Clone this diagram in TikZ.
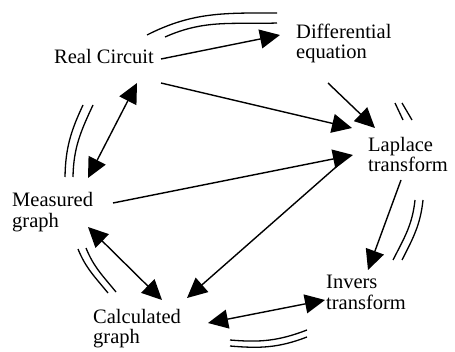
\documentclass[tikz,border=0pt]{standalone}
\usepackage{fontspec}
\setmainfont{Liberation Serif}
\usetikzlibrary{arrows.meta}
\begin{document}
\begin{tikzpicture}[x=1pt,y=1pt,
  lbl/.style={anchor=base west, inner sep=0pt, align=left, font=\fontsize{20.5}{20}\selectfont},
  conn/.style={line width=1.4pt, -{Triangle[length=20pt,width=19pt]}},
  biconn/.style={line width=1.4pt, {Triangle[length=20pt,width=19pt]}-{Triangle[length=20pt,width=19pt]}},
  cyc/.style={line width=1.3pt}]
\useasboundingbox (0,0) rectangle (455,351);
% nodes (base west = baseline of the last line)
\node[lbl] (rc) at (54,287) {Real Circuit};
\node[lbl] (de) at (296,292) {Differential\\equation};
\node[lbl] (lt) at (368,179) {Laplace\\transform};
\node[lbl] (mg) at (12,124) {Measured\\graph};
\node[lbl] (cg) at (93,8) {Calculated\\graph};
\node[lbl] (it) at (326,42) {Invers\\transform};
% connectors
\draw[conn] ([shift={(107,5)}]rc.base west) -- ([shift={(-16,24)}]de.base west);
\draw[conn] ([shift={(107,-19)}]rc.base west) -- ([shift={(-16,44)}]lt.base west);
\draw[conn] ([shift={(32,-24)}]de.base west) -- ([shift={(7,44)}]lt.base west);
\draw[conn] ([shift={(101,24)}]mg.base west) -- ([shift={(-15,17)}]lt.base west);
\draw[conn] ([shift={(-24,12)}]lt.base west) -- ([shift={(94,45)}]cg.base west);
\draw[biconn] ([shift={(83,-19)}]rc.base west) -- ([shift={(76,49)}]mg.base west);
\draw[biconn] ([shift={(76,0)}]mg.base west) -- ([shift={(69,43)}]cg.base west);
\draw[biconn] ([shift={(115,20)}]cg.base west) -- ([shift={(-1,9)}]it.base west);
\draw[conn] ([shift={(33,-8)}]lt.base west) -- ([shift={(42,39)}]it.base west);
% cycle marks
\draw[cyc] (147,316) to[out=27,in=180] (277,338);
\draw[cyc] (165,314) to[out=24,in=182] (277,328);
\draw[cyc] (395,248) -- (403,231);
\draw[cyc] (402,248) -- (412,231);
\draw[cyc] (423,151) to[out=264,in=63] (402,91);
\draw[cyc] (415,151) to[out=264,in=63] (393,91);
\draw[cyc] (307,14) to[out=201,in=355] (230,5);
\draw[cyc] (307,21) to[out=201,in=355] (230,11);
\draw[cyc] (108,58) to[out=129,in=292] (78,102);
\draw[cyc] (116,59) to[out=129,in=292] (86,103);
\draw[cyc] (65,174) to[out=89,in=245] (83,246);
\draw[cyc] (73,174) to[out=89,in=245] (93,246);
\end{tikzpicture}
\end{document}
